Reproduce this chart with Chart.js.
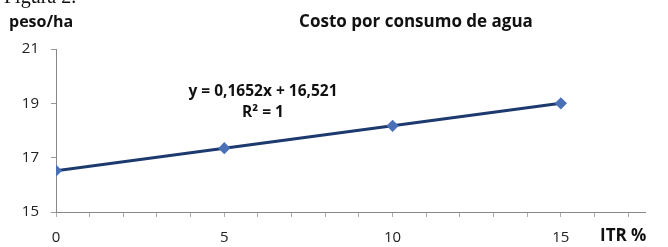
<!DOCTYPE html>
<html>
<head>
<meta charset="utf-8">
<script src="https://cdn.jsdelivr.net/npm/chart.js@4/dist/chart.umd.min.js"></script>
<style>
  html, body { margin: 0; padding: 0; background: #fff; }
  #wrap { position: relative; width: 668px; height: 247px; overflow: hidden; }
</style>
</head>
<body>
<div id="wrap"><canvas id="chart" width="668" height="247"></canvas></div>
<script>
// data
var itr = [0, 5, 10, 15];
var costo = [16.521, 17.347, 18.173, 18.999];
var yTicks = [15, 17, 19, 21];
var xLabels = [0, 5, 10, 15];

var points = itr.map(function (x, i) { return { x: x, y: costo[i] }; });

var textPlugin = {
    id: 'texts',
    afterDraw: function (chart) {
        var ctx = chart.ctx;
        ctx.save();
        ctx.fillStyle = '#111';
        ctx.textBaseline = 'alphabetic';
        ctx.font = '20px "Liberation Serif", serif';
        ctx.textAlign = 'left';
        ctx.fillText('Figura 2.', 4, 3);
        ctx.textBaseline = 'middle';
        ctx.font = 'bold 16px "Open Sans", sans-serif';
        ctx.fillText('peso/ha', 9, 22);
        ctx.font = 'bold 17px "Open Sans", sans-serif';
        ctx.textAlign = 'center';
        ctx.fillText('Costo por consumo de agua', 416, 22);
        ctx.textAlign = 'left';
        ctx.font = 'bold 17px "Open Sans", sans-serif';
        ctx.fillText('ITR %', 600, 236);
        ctx.font = 'bold 15.5px "Open Sans", sans-serif';
        ctx.textAlign = 'center';
        ctx.fillText('y = 0,1652x + 16,521', 263, 92);
        ctx.fillText('R\u00B2 = 1', 263, 113);
        ctx.restore();
    }
};

var ctx = document.getElementById('chart').getContext('2d');
var costChart = new Chart(ctx, {
    type: 'scatter',
    data: {
        datasets: [{
            data: points,
            showLine: true,
            borderColor: '#1c3a6e',
            borderWidth: 3,
            pointStyle: 'rectRot',
            pointRadius: 4,
            pointBackgroundColor: '#4a70b8',
            pointBorderColor: '#4a70b8'
        }]
    },
    options: {
        responsive: false,
        animation: false,
        layout: { padding: { top: 49, right: 23, left: 0, bottom: 0 } },
        plugins: { legend: { display: false }, tooltip: { enabled: false } },
        scales: {
            x: {
                type: 'linear',
                min: 0,
                max: 17.5,
                afterFit: function (s) { s.height = 35; },
                afterBuildTicks: function (s) {
                    var t = [];
                    for (var v = 0; v <= 17; v++) t.push({ value: v });
                    s.ticks = t;
                },
                ticks: {
                    autoSkip: false,
                    maxRotation: 0,
                    color: '#222',
                    font: { size: 15, family: '"Open Sans", sans-serif' },
                    padding: 12,
                    callback: function (v) { return xLabels.indexOf(v) >= 0 ? String(v) : ''; }
                },
                grid: { drawOnChartArea: false, color: '#aaa', tickLength: 5 },
                border: { color: '#888', width: 1 }
            },
            y: {
                min: 15,
                max: 21,
                afterFit: function (s) { s.width = 56; },
                afterBuildTicks: function (s) {
                    s.ticks = yTicks.map(function (v) { return { value: v }; });
                },
                ticks: {
                    color: '#222',
                    font: { size: 15, family: '"Open Sans", sans-serif' },
                    padding: 12
                },
                grid: { drawOnChartArea: false, color: '#999', tickLength: 5 },
                border: { color: '#888', width: 1 }
            }
        }
    },
    plugins: [textPlugin]
});
</script>
</body>
</html>
